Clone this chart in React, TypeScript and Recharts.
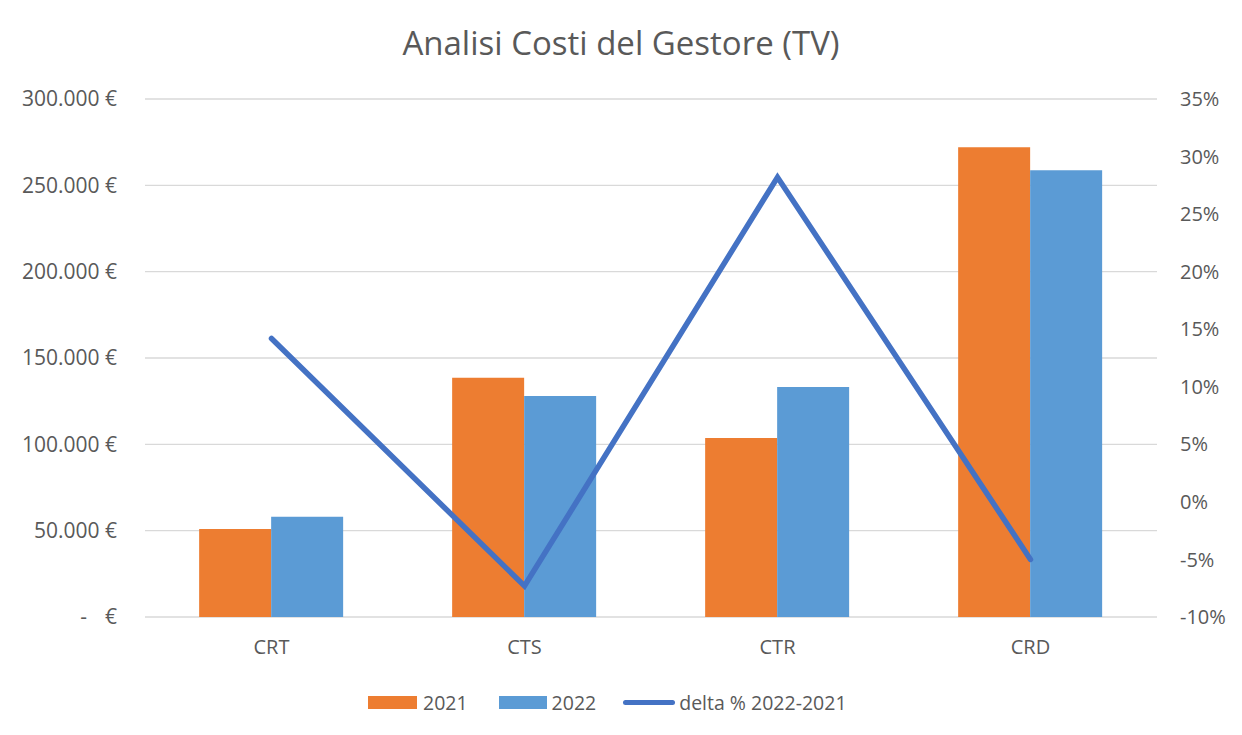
import React from 'react';
import { ComposedChart, Bar, Line, XAxis, YAxis, CartesianGrid } from 'recharts';

const categories = ['CRT', 'CTS', 'CTR', 'CRD'];
const costs2021 = [51000, 138500, 103700, 272000];
const costs2022 = [58000, 128000, 133200, 258800];
const deltaPct = [14.2, -7.3, 28.2, -5.0];
const leftTicks = [0, 50000, 100000, 150000, 200000, 250000, 300000];
const rightTicks = [-10, -5, 0, 5, 10, 15, 20, 25, 30, 35];
const seriesNames = ['2021', '2022', 'delta % 2022-2021'];
const title = 'Analisi Costi del Gestore (TV)';

const data = categories.map((c, i) => ({
  cat: c,
  y2021: costs2021[i],
  y2022: costs2022[i],
  delta: deltaPct[i],
}));

const FONT = '"Open Sans", sans-serif';
const TEXT = '#595959';

const fmtThousands = (v: number) => String(v).replace(/\B(?=(\d{3})+(?!\d))/g, '.');

const LeftTick = (props: any) => {
  const { x, y, payload } = props;
  const v = payload.value;
  const common = { fill: TEXT, fontSize: 21, fontFamily: FONT, dy: '0.355em', textAnchor: 'end' as const };
  if (v === 0) {
    return (
      <g>
        <text x={x} y={y} {...common}>€</text>
        <text x={x - 30} y={y} {...common}>-</text>
      </g>
    );
  }
  return (
    <text x={x} y={y} {...common}>
      {fmtThousands(v) + ' €'}
    </text>
  );
};

export default function App() {
  return (
    <div style={{ position: 'absolute', left: 0, top: 0, width: 1242, height: 735, background: '#fff', fontFamily: FONT }}>
      <div
        style={{
          position: 'absolute',
          left: 0,
          top: 21,
          width: 1242,
          textAlign: 'center',
          fontSize: 33,
          color: TEXT,
          lineHeight: '44px',
        }}
      >
        {title}
      </div>
      <ComposedChart
        width={1242}
        height={735}
        data={data}
        margin={{ top: 99, right: 0, bottom: 0, left: 0 }}
        barGap={0}
        barCategoryGap="21.4%"
      >
        <CartesianGrid yAxisId="left" vertical={false} stroke="#D9D9D9" strokeWidth={1.3} />
        <XAxis
          dataKey="cat"
          height={118}
          axisLine={false}
          tickLine={false}
          tickSize={0}
          tickMargin={23}
          tick={{ fill: TEXT, fontSize: 20, fontFamily: FONT }}
        />
        <YAxis
          yAxisId="left"
          orientation="left"
          width={145}
          domain={[0, 300000]}
          ticks={leftTicks}
          interval={0}
          axisLine={false}
          tickLine={false}
          tickSize={0}
          tickMargin={28}
          tick={<LeftTick />}
        />
        <YAxis
          yAxisId="right"
          orientation="right"
          width={85}
          domain={[-10, 35]}
          ticks={rightTicks}
          interval={0}
          axisLine={false}
          tickLine={false}
          tickSize={0}
          tickMargin={23}
          tickFormatter={(v: number) => `${v}%`}
          tick={{ fill: TEXT, fontSize: 20, fontFamily: FONT }}
        />
        <Bar yAxisId="left" dataKey="y2021" name={seriesNames[0]} fill="#ED7D31" isAnimationActive={false} />
        <Bar yAxisId="left" dataKey="y2022" name={seriesNames[1]} fill="#5B9BD5" isAnimationActive={false} />
        <Line
          yAxisId="right"
          type="linear"
          dataKey="delta"
          name={seriesNames[2]}
          stroke="#4472C4"
          strokeWidth={5.5}
          strokeLinecap="round"
          dot={false}
          activeDot={false}
          isAnimationActive={false}
        />
      </ComposedChart>
      <div
        style={{
          position: 'absolute',
          left: 368,
          top: 689,
          height: 26,
          display: 'flex',
          alignItems: 'center',
          fontSize: 19.5,
          color: TEXT,
          whiteSpace: 'nowrap',
        }}
      >
        <span style={{ display: 'inline-block', width: 49, height: 13, background: '#ED7D31', marginRight: 6 }} />
        <span style={{ marginRight: 31 }}>{seriesNames[0]}</span>
        <span style={{ display: 'inline-block', width: 48, height: 13, background: '#5B9BD5', marginRight: 5 }} />
        <span style={{ marginRight: 27 }}>{seriesNames[1]}</span>
        <span style={{ display: 'inline-block', width: 52, height: 5, borderRadius: 3, background: '#4472C4', marginRight: 4 }} />
        <span>{seriesNames[2]}</span>
      </div>
    </div>
  );
}
